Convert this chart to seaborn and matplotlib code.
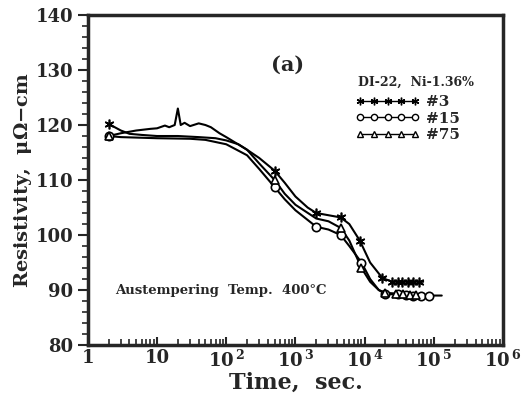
import numpy as np
import pandas as pd
import seaborn as sns
import matplotlib.pyplot as plt
from matplotlib.lines import Line2D
from matplotlib.ticker import LogLocator, FixedLocator, NullFormatter

# curve traces (time in sec, resistivity in micro-ohm cm)
t3 = [2, 3, 4, 6, 10, 20, 40, 70, 100, 150, 200, 300, 500, 700, 1000, 1500, 2000, 3000, 4500,
      6000, 8500, 12000, 18000, 25000, 40000, 70000]
r3 = [120.2, 119.0, 118.4, 118.2, 118.0, 118.0, 117.8, 117.6, 117.2, 116.5, 115.5, 114.0, 111.7,
      109.5, 107.0, 105.0, 104.0, 103.6, 103.2, 102.0, 99.0, 95.0, 92.2, 91.5, 91.5, 91.5]

t15 = [2, 3, 10, 30, 50, 100, 200, 300, 500, 700, 1000, 2000, 3000, 4500, 6000, 9000, 12000,
       16000, 20000, 50000, 130000]
r15 = [118.0, 117.8, 117.6, 117.5, 117.3, 116.5, 114.5, 112.0, 108.7, 106.5, 104.5, 101.5, 101.0,
       100.0, 98.0, 95.0, 92.0, 90.0, 89.3, 89.0, 89.0]

t75 = [2, 3, 5, 8, 10, 13, 15, 18, 20, 22, 25, 30, 40, 50, 60, 80, 100, 200, 300, 500, 700,
       1000, 2000, 3000, 4500, 6000, 9000, 12000, 16000, 20000, 70000]
r75 = [118.0, 118.5, 119.0, 119.3, 119.4, 119.9, 119.6, 120.0, 123.0, 120.0, 120.4, 119.8, 120.3,
       120.0, 119.6, 118.5, 117.8, 115.5, 113.0, 110.0, 107.5, 105.5, 103.0, 102.5, 101.3, 99.0,
       94.0, 91.5, 90.0, 89.5, 89.0]

# marker positions
m3_t = [2, 500, 2000, 4500, 8500, 18000, 25000, 30000, 35000, 42000, 50000, 60000]
m3_r = [120.2, 111.7, 104.0, 103.2, 99.0, 92.2, 91.5, 91.5, 91.5, 91.5, 91.5, 91.5]
m15_t = [2, 500, 2000, 4500, 9000, 20000, 30000, 40000, 50000, 65000, 85000]
m15_r = [118.0, 108.7, 101.5, 100.0, 95.0, 89.3, 89.2, 89.1, 89.0, 89.0, 89.0]
m75_t = [2, 500, 4500, 9000, 20000, 28000, 36000, 45000, 55000]
m75_r = [118.0, 110.0, 101.3, 94.0, 89.5, 89.3, 89.2, 89.1, 89.1]

labels = ["#3", "#15", "#75"]
xtick_vals = [1, 10, 100, 1000, 10000, 100000, 1000000]
xtick_labels = ["1", "10", r"10$^{\,2}$", r"10$^{\,3}$", r"10$^{\,4}$", r"10$^{\,5}$", r"10$^{\,6}$"]

sns.set_style("ticks")
plt.rcParams['font.family'] = ['DejaVu Serif']
plt.rcParams['font.weight'] = 'bold'
plt.rcParams['mathtext.fontset'] = 'dejavuserif'
plt.rcParams['mathtext.default'] = 'bf'

fig = plt.figure(figsize=(5.29, 4.05), dpi=100)
ax = fig.add_axes([0.166, 0.148, 0.785, 0.815])

styles = [dict(marker=(6, 2, 0), ms=7, mfc='black'),
          dict(marker='o', ms=6, mfc='white'),
          dict(marker='^', ms=6, mfc='white')]

for t, r in [(t3, r3), (t15, r15), (t75, r75)]:
    sns.lineplot(x=t, y=r, ax=ax, color='black', lw=1.5, estimator=None, sort=True)

for (mt, mr), st in zip([(m3_t, m3_r), (m15_t, m15_r), (m75_t, m75_r)], styles):
    ax.plot(mt, mr, ls='none', color='black', mec='black', mew=1.2, **st)

ax.set_xscale('log')
ax.set_xlim(1, 1e6)
ax.set_ylim(80, 140)
ax.set_yticks([80, 90, 100, 110, 120, 130, 140])
ax.yaxis.set_minor_locator(FixedLocator(np.arange(80, 141, 2)))
ax.xaxis.set_major_locator(FixedLocator(xtick_vals))
ax.set_xticklabels(xtick_labels)
ax.xaxis.set_minor_locator(LogLocator(base=10, subs=np.arange(2, 10)))
ax.xaxis.set_minor_formatter(NullFormatter())

ax.tick_params(axis='x', which='both', direction='in', top=False)
ax.tick_params(axis='x', which='major', length=6, width=1.5, labelsize=13, pad=3)
ax.tick_params(axis='x', which='minor', length=4, width=1.2)
ax.tick_params(axis='y', which='major', direction='out', length=7, width=1.5, labelsize=13)
ax.tick_params(axis='y', which='minor', direction='out', length=4, width=1.2)
for s in ax.spines.values():
    s.set_linewidth(2.5)

ax.set_xlabel("Time,  sec.", fontsize=16, fontweight='bold', labelpad=1)
ax.set_ylabel(r"Resistivity,  $\mu\Omega$$-$cm", fontsize=14, fontweight='bold', labelpad=1)

ax.text(0.48, 0.85, "(a)", transform=ax.transAxes, fontsize=15, fontweight='bold', ha='center', va='center')
ax.text(0.65, 0.795, "DI-22,  Ni-1.36%", transform=ax.transAxes, fontsize=9, fontweight='bold', ha='left', va='center')
ax.text(0.065, 0.165, "Austempering  Temp.  400°C", transform=ax.transAxes, fontsize=9.5, fontweight='bold',
        ha='left', va='center')

handles = [Line2D([], [], color='black', lw=1, mec='black', mew=1.0,
                  **{**st, 'ms': st['ms'] - 1.5}) for st in styles]
leg = ax.legend(handles, labels, loc='upper left', bbox_to_anchor=(0.63, 0.775), numpoints=5,
                handlelength=4.2, handletextpad=0.4, labelspacing=0.15, frameon=False,
                prop=dict(size=11, weight='bold'), borderaxespad=0)

fig.savefig("out.png", dpi=100)
